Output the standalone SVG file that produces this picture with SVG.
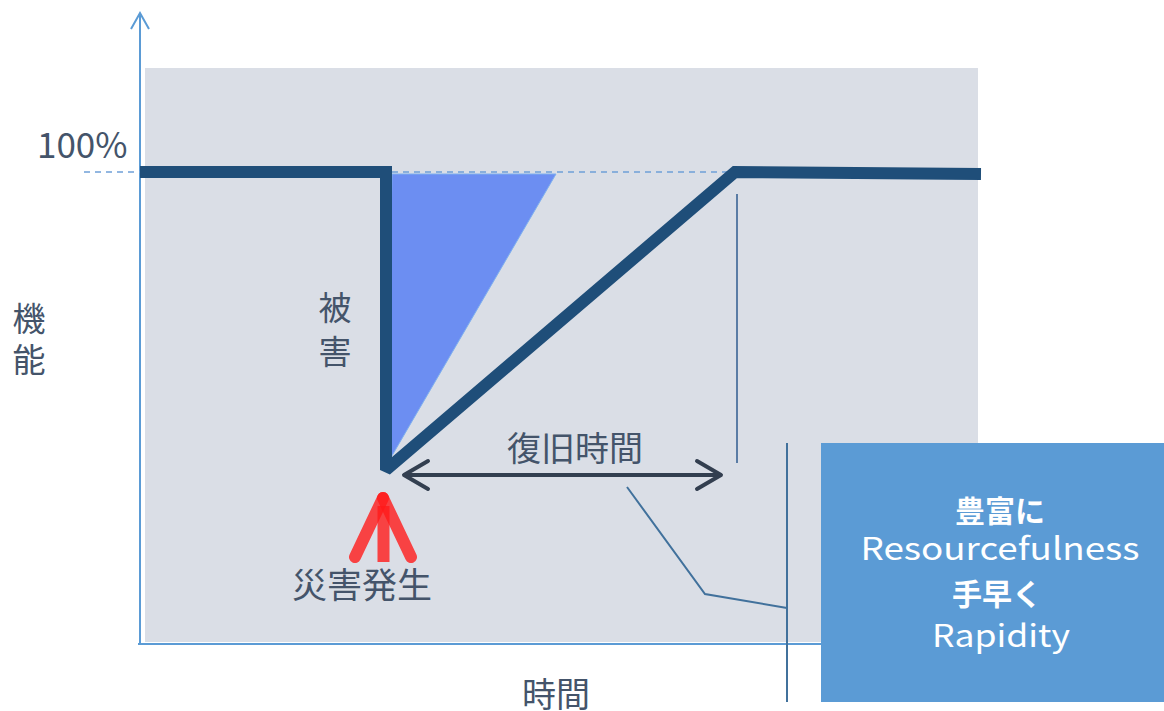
<svg xmlns="http://www.w3.org/2000/svg" width="1164" height="711" viewBox="0 0 1164 711">
<style>
.t{font-family:"Noto Sans CJK JP","Noto Sans",sans-serif;fill:#44546A;}
.w{font-family:"Noto Sans CJK JP","Noto Sans",sans-serif;fill:#FFFFFF;text-anchor:middle;}
.axis{stroke:#5B9BD5;stroke-width:2;fill:none;}
.curve{stroke:#1F4E79;stroke-width:12;fill:none;stroke-linejoin:miter;stroke-miterlimit:2;}
.thin{stroke:#41719C;stroke-width:2;fill:none;}
.red{stroke:#FF1A1A;stroke-opacity:0.8;fill:none;}
</style>
<rect id="plot-bg" x="145" y="68" width="833" height="574" fill="#DADEE6"/>
<g id="axes">
<line class="axis" x1="140" y1="14" x2="140" y2="645"/>
<polyline class="axis" points="131,29 140,13 149,29"/>
<line class="axis" x1="138" y1="644" x2="822" y2="644"/>
<line x1="84" y1="172" x2="735" y2="172" stroke="#6FA0D8" stroke-width="1.5" stroke-dasharray="6,5"/>
</g>
<g id="triangle">
<polygon points="392,174 556,174 386,466" fill="#6C8EF2" stroke="#7FB0EE" stroke-width="1"/>
</g>
<g id="connectors">
<polyline class="curve" points="140,172 386,172 386,470 735,172 981,174"/>
<line x1="737" y1="194" x2="737" y2="463" stroke="#5A7CA5" stroke-width="2"/>
<line x1="404" y1="475" x2="721" y2="475" stroke="#333F50" stroke-width="4"/>
<polyline points="428,461 404,475 428,489" stroke="#333F50" stroke-width="4" fill="none" stroke-linecap="round" stroke-linejoin="round"/>
<polyline points="697,461 721,475 697,489" stroke="#333F50" stroke-width="4" fill="none" stroke-linecap="round" stroke-linejoin="round"/>
<polyline class="thin" points="627,487 705,594 787,608"/>
<line class="thin" x1="787" y1="443" x2="787" y2="702"/>
</g>
<g id="red-arrow">
<line class="red" x1="383.5" y1="506" x2="383.5" y2="562" stroke-width="12"/>
<line class="red" x1="383" y1="498" x2="355" y2="557" stroke-width="12" stroke-linecap="round"/>
<line class="red" x1="383" y1="498" x2="411" y2="557" stroke-width="12" stroke-linecap="round"/>
</g>
<g id="labels">
<text class="t" x="37" y="158" font-size="35">100%</text>
<text class="t" x="29" y="331" font-size="33" text-anchor="middle">機</text>
<text class="t" x="29" y="372" font-size="33" text-anchor="middle">能</text>
<text class="t" x="335" y="320" font-size="33" text-anchor="middle">被</text>
<text class="t" x="335" y="364" font-size="33" text-anchor="middle">害</text>
<text class="t" x="575" y="461" font-size="34" text-anchor="middle">復旧時間</text>
<text class="t" x="362" y="598" font-size="35" text-anchor="middle">災害発生</text>
<text class="t" x="556" y="707" font-size="34" text-anchor="middle">時間</text>
</g>
<g id="callout-box">
<rect x="821" y="443" width="343" height="259" fill="#5B9BD5"/>
<text class="w" x="1000" y="522" font-size="30" font-weight="bold">豊富に</text>
<text class="w" x="1000" y="560" font-size="31" textLength="279" lengthAdjust="spacingAndGlyphs">Resourcefulness</text>
<text class="w" x="997" y="605" font-size="30" font-weight="bold">手早く</text>
<text class="w" x="1001" y="647" font-size="31" textLength="138" lengthAdjust="spacingAndGlyphs">Rapidity</text>
</g>
</svg>
